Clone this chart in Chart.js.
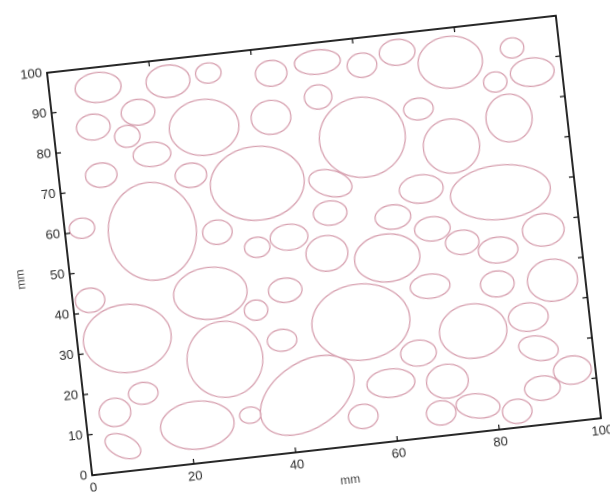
<!DOCTYPE html>
<html>
<head>
<meta charset="utf-8">
<script src="https://cdn.jsdelivr.net/npm/chart.js@4.4.0/dist/chart.umd.min.js"></script>
<style>
html, body { margin: 0; padding: 0; background: #fff; overflow: hidden; width: 610px; height: 492px; }
#wrap { position: absolute; left: -12px; top: 12.5px; width: 640px; height: 520px;
        transform-origin: 336px 232.5px; transform: rotate(-6.4deg); }
</style>
</head>
<body>
<div id="wrap"><canvas id="chart" width="640" height="520"></canvas></div>
<script>
// ellipse centres (mm)
const centerX = [9.6, 23.3, 31.3, 7.8, 16.8, 14.2, 18.6, 29.3, 8.3, 25.7,
                 17.0, 3.4, 29.6, 38.4, 42.5, 43.5, 52.7, 61.3, 68.4, 52.1,
                 59.8, 78.5, 90.8, 94.2, 86.8, 71.3, 88.7, 76.9, 52.6, 70.1,
                 85.4, 51.9, 64.0, 71.4, 92.9, 37.0, 43.4, 50.4, 62.0, 76.9,
                 83.7, 93.6, 26.9, 3.4, 41.5, 35.4, 55.5, 69.7, 82.8, 9.8,
                 28.3, 39.8, 43.5, 77.1, 88.1, 66.0, 89.4, 60.0, 71.0, 95.5,
                 89.3, 76.4, 69.1, 83.9, 53.9, 11.7, 5.8, 21.5, 32.0, 6.6];
const centerY = [95.0, 94.6, 95.5, 85.4, 87.8, 82.2, 77.1, 82.3, 73.4, 70.9,
                 58.2, 60.9, 56.2, 67.1, 82.9, 93.7, 95.2, 93.2, 95.4, 86.6,
                 75.5, 91.5, 93.3, 86.8, 85.4, 80.9, 76.2, 70.9, 65.1, 61.2,
                 58.2, 57.8, 55.1, 51.1, 47.8, 51.4, 53.0, 48.0, 45.2, 47.0,
                 44.1, 35.2, 41.4, 43.0, 40.1, 36.0, 30.2, 37.1, 35.8, 32.6,
                 24.8, 27.9, 13.7, 24.9, 26.8, 21.0, 18.9, 14.4, 13.3, 12.6,
                 9.0, 6.4, 5.7, 4.0, 7.0, 18.7, 14.8, 9.4, 10.4, 6.3];
// semi axes (mm)
const radiusX = [4.5, 4.3, 2.5, 3.3, 3.3, 2.5, 3.7, 6.8, 3.1, 3.1,
                 8.6, 2.5, 2.9, 9.2, 3.9, 3.1, 4.5, 2.9, 3.5, 2.7,
                 8.4, 6.3, 2.3, 4.3, 2.3, 2.9, 4.5, 5.5, 4.3, 4.3,
                 9.8, 3.3, 3.5, 3.5, 4.1, 2.5, 3.7, 4.1, 6.4, 3.3,
                 3.9, 4.9, 7.2, 2.9, 3.3, 2.3, 9.6, 3.9, 3.3, 8.6,
                 7.4, 2.9, 10.2, 6.6, 3.9, 3.5, 3.9, 4.7, 4.1, 3.7,
                 3.5, 4.3, 2.9, 2.9, 2.9, 2.9, 3.1, 7.2, 2.1, 3.7];
const radiusY = [3.7, 4.0, 2.5, 3.2, 3.2, 2.7, 3.0, 6.9, 3.0, 3.0,
                 12.1, 2.5, 3.0, 9.1, 4.2, 3.2, 3.0, 3.0, 3.2, 3.0,
                 9.9, 6.4, 2.5, 3.5, 2.5, 2.7, 5.9, 6.7, 3.2, 3.5,
                 6.7, 3.0, 3.0, 3.0, 4.0, 2.5, 3.2, 4.4, 5.9, 3.0,
                 3.2, 5.2, 6.4, 3.0, 3.0, 2.5, 9.4, 3.0, 3.2, 8.4,
                 9.4, 2.7, 8.1, 6.7, 3.5, 3.2, 3.0, 3.5, 4.2, 3.5,
                 3.0, 3.0, 3.0, 3.0, 3.0, 2.7, 3.5, 5.9, 2.0, 2.7];
// tilt of each ellipse, degrees (clockwise on screen)
const tilt = [0, 0, 0, 0, 0, 0, 0, 0, 0, 0,
              0, 0, 0, 0, 0, 0, 0, 0, 0, 0,
              0, 0, 0, 0, 0, 0, 0, 0, 20, 0,
              0, 0, 0, 0, 0, 0, 0, 0, 0, 0,
              0, 0, 0, 0, 0, 0, 0, 0, 0, 0,
              0, 0, -28, 0, 0, 0, 15, 0, 0, 0,
              0, 10, 0, 0, 0, 0, 0, 0, 0, 30];

const xTickValues = [0, 20, 40, 60, 80, 100];
const yTickValues = [0, 10, 20, 30, 40, 50, 60, 70, 80, 90, 100];
const xTitle = "mm";
const yTitle = "mm";

const ellipseColor = "#d7a1b0";

// draws ellipses, the box and the inward ticks
const ellipsePlugin = {
    id: "ellipses",
    afterDatasetsDraw(chart) {
        const { ctx, chartArea, scales: { x, y } } = chart;
        const sx = Math.abs(x.getPixelForValue(1) - x.getPixelForValue(0));
        const sy = Math.abs(y.getPixelForValue(1) - y.getPixelForValue(0));

        ctx.save();
        ctx.beginPath();
        ctx.rect(chartArea.left, chartArea.top, chartArea.width, chartArea.height);
        ctx.clip();
        ctx.strokeStyle = ellipseColor;
        ctx.lineWidth = 1.3;
        centerX.forEach((cx, i) => {
            ctx.beginPath();
            ctx.ellipse(x.getPixelForValue(cx), y.getPixelForValue(centerY[i]),
                radiusX[i] * sx, radiusY[i] * sy, tilt[i] * Math.PI / 180, 0, 2 * Math.PI);
            ctx.stroke();
        });
        ctx.restore();

        ctx.save();
        ctx.strokeStyle = "#111";
        ctx.lineWidth = 1.8;
        ctx.strokeRect(chartArea.left, chartArea.top, chartArea.width, chartArea.height);
        ctx.lineWidth = 1.2;
        const len = 5;
        ctx.beginPath();
        xTickValues.forEach(v => {
            const px = x.getPixelForValue(v);
            ctx.moveTo(px, chartArea.bottom); ctx.lineTo(px, chartArea.bottom - len);
            ctx.moveTo(px, chartArea.top); ctx.lineTo(px, chartArea.top + len);
        });
        yTickValues.forEach(v => {
            const py = y.getPixelForValue(v);
            ctx.moveTo(chartArea.left, py); ctx.lineTo(chartArea.left + len, py);
            ctx.moveTo(chartArea.right, py); ctx.lineTo(chartArea.right - len, py);
        });
        ctx.stroke();
        ctx.restore();
    }
};

const tickFont = { family: "'Liberation Sans', Arial, sans-serif", size: 13 };
const titleFont = { family: "'Liberation Sans', Arial, sans-serif", size: 12 };

new Chart(document.getElementById("chart"), {
    type: "scatter",
    data: {
        datasets: [{
            data: centerX.map((v, i) => ({ x: v, y: centerY[i] })),
            pointRadius: 0
        }]
    },
    options: {
        responsive: false,
        animation: false,
        devicePixelRatio: 2,
        layout: { padding: { left: 20, top: 30, right: 48, bottom: 40 } },
        plugins: { legend: { display: false }, tooltip: { enabled: false } },
        scales: {
            x: {
                type: "linear", min: 0, max: 100,
                afterBuildTicks: s => { s.ticks = xTickValues.map(v => ({ value: v })); },
                afterFit: s => { s.height = 45; },
                grid: { display: false, drawTicks: false },
                border: { display: false },
                ticks: { padding: 5, color: "#2a2a2a", font: tickFont, maxRotation: 0 },
                title: { display: true, text: xTitle, color: "#444", font: titleFont, padding: { top: 0, bottom: 4 } }
            },
            y: {
                type: "linear", min: 0, max: 100,
                afterBuildTicks: s => { s.ticks = yTickValues.map(v => ({ value: v })); },
                afterFit: s => { s.width = 60; },
                grid: { display: false, drawTicks: false },
                border: { display: false },
                ticks: { padding: 5, color: "#2a2a2a", font: tickFont },
                title: { display: true, text: yTitle, color: "#444", font: titleFont, padding: { top: 4, bottom: 0 } }
            }
        }
    },
    plugins: [ellipsePlugin]
});
</script>
</body>
</html>
